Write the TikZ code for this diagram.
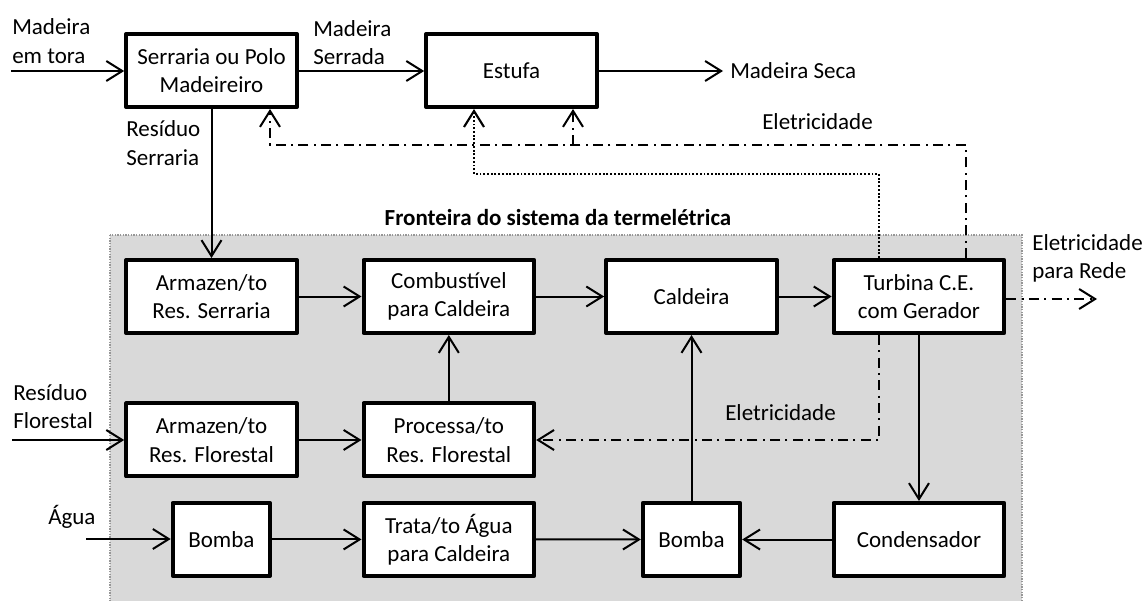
\documentclass[tikz,border=0pt]{standalone}
\usepackage{fontspec}
\setmainfont{Carlito}
\usetikzlibrary{positioning, arrows.meta}
\definecolor{fundo}{RGB}{217,217,217}
\definecolor{borda}{RGB}{150,150,150}
\tikzset{
    >={Straight Barb[length=12pt, width=15pt]}, % open arrowheads
    block/.style={draw, line width=3pt, line join=round, fill=white,
        minimum width=128pt, minimum height=54.75pt, align=center, inner sep=2pt},
    smallblock/.style={block, minimum width=73pt},
    lbl/.style={align=left, anchor=west, inner sep=0pt},
    flow/.style={line width=1.5pt},
    elec/.style={line width=1.5pt, dash pattern=on 7.5pt off 4pt on 1.5pt off 4pt},
    heat/.style={line width=1.6pt, dash pattern=on 1.4pt off 1.4pt},
    boundary/.style={draw=borda, line width=1.1pt, dash pattern=on 1pt off 1pt, fill=fundo},
}

\begin{document}
\begin{tikzpicture}[x=0.75pt, y=-0.75pt, font=\fontsize{17.25pt}{21.2pt}\selectfont]
    \useasboundingbox (0,0) rectangle (1146,600);

    % system boundary
    \path[boundary] (110,235) rectangle (1022,606);
    \node[font=\fontsize{17.25pt}{21.2pt}\selectfont\bfseries] (front) at (558,218) {Fronteira do sistema da termelétrica};

    % boxes
    \node[block] (serr) at (211.5,70.5) {Serraria ou Polo\\Madeireiro};
    \node[block] (estufa) [right of=serr, node distance=225pt] {Estufa};
    \node[block] (arms) [below of=serr, node distance=169.5pt] {Armazen/to\\Res. Serraria};
    \node[block] (comb) [right of=arms, node distance=178pt] {Combustível\\para Caldeira};
    \node[block] (cald) [right of=comb, node distance=182pt] {Caldeira};
    \node[block] (turb) [right of=cald, node distance=170.6pt] {Turbina C.E.\\com Gerador};
    \node[block] (armf) [below of=arms, node distance=107.6pt] {Armazen/to\\Res. Florestal};
    \node[block] (procf) [below of=comb, node distance=107.6pt] {Processa/to\\Res. Florestal};
    \node[smallblock] (bomba2) [below of=cald, node distance=182.25pt] {Bomba};
    \node[block] (cond) [below of=turb, node distance=182.25pt] {Condensador};
    \node[block] (trata) [below of=procf, node distance=74.6pt] {Trata/to Água\\para Caldeira};
    \node[smallblock] (bomba1) [left of=trata, node distance=170.6pt] {Bomba};

    % free labels
    \node[lbl] (ltora) at (12,41) {Madeira\\em tora};
    \node[lbl] (lserrada) at (313,42.5) {Madeira\\Serrada};
    \node[lbl] (lseca) at (730,71) {Madeira Seca};
    \node[lbl] (lresserr) at (126,143) {Resíduo\\Serraria};
    \node[lbl] (lelec1) at (762,122) {Eletricidade};
    \node[lbl] (lrede) at (1032,258) {Eletricidade\\para Rede};
    \node[lbl] (lresflor) at (13,406.5) {Resíduo\\Florestal};
    \node[lbl] (lelec2) at (725,413) {Eletricidade};
    \node[lbl] (lagua) at (48,517) {Água};

    % free ends
    \coordinate (tora) at (11,71);
    \coordinate (seca) at (723,71);
    \coordinate (florin) at (12,440);
    \coordinate (aguain) at (86,539);
    \coordinate (rede) at (1097,299);
    \coordinate (elecA) at (270,145);
    \coordinate (elecB) at (573,145);
    \coordinate (elecC) at (966,145);
    \coordinate (dotA) at (474,174);
    \coordinate (dotB) at (879,174);
    \coordinate (elecD) at (879,440);

    % material flows
    \draw[flow, ->] (tora) -- (serr.west |- tora);
    \draw[flow, ->] (serr.east |- tora) -- (estufa.west |- tora);
    \draw[flow, ->] (estufa.east |- seca) -- (seca);
    \draw[flow, ->] (serr.south) -- (serr.south |- arms.north);
    \draw[flow, ->] (arms) -- (comb);
    \draw[flow, ->] (comb) -- (cald);
    \draw[flow, ->] (cald) -- (turb);
    \draw[flow, ->] (florin) -- (armf.west |- florin);
    \draw[flow, ->] (armf) -- (procf);
    \draw[flow, ->] (procf) -- (comb);
    \draw[flow, ->] (aguain) -- (bomba1.west |- aguain);
    \draw[flow, ->] (bomba1) -- (trata);
    \draw[flow, ->] (trata) -- (bomba2);
    \draw[flow, ->] (cond) -- (bomba2);
    \draw[flow, ->] (bomba2) -- (cald);
    \draw[flow, ->] (turb) -- (cond);

    % electricity and heat
    \draw[elec, ->] (turb.north -| elecC) -- (elecC) -- (elecA) -- (serr.south -| elecA);
    \draw[elec, ->] (elecB) -- (estufa.south -| elecB);
    \draw[heat, ->] (turb.north -| dotB) -- (dotB) -- (dotA) -- (estufa.south -| dotA);
    \draw[elec, ->] (turb.south -| elecD) -- (elecD) -- (procf.east |- elecD);
    \draw[elec, ->] (turb.east |- rede) -- (rede);
\end{tikzpicture}
\end{document}
